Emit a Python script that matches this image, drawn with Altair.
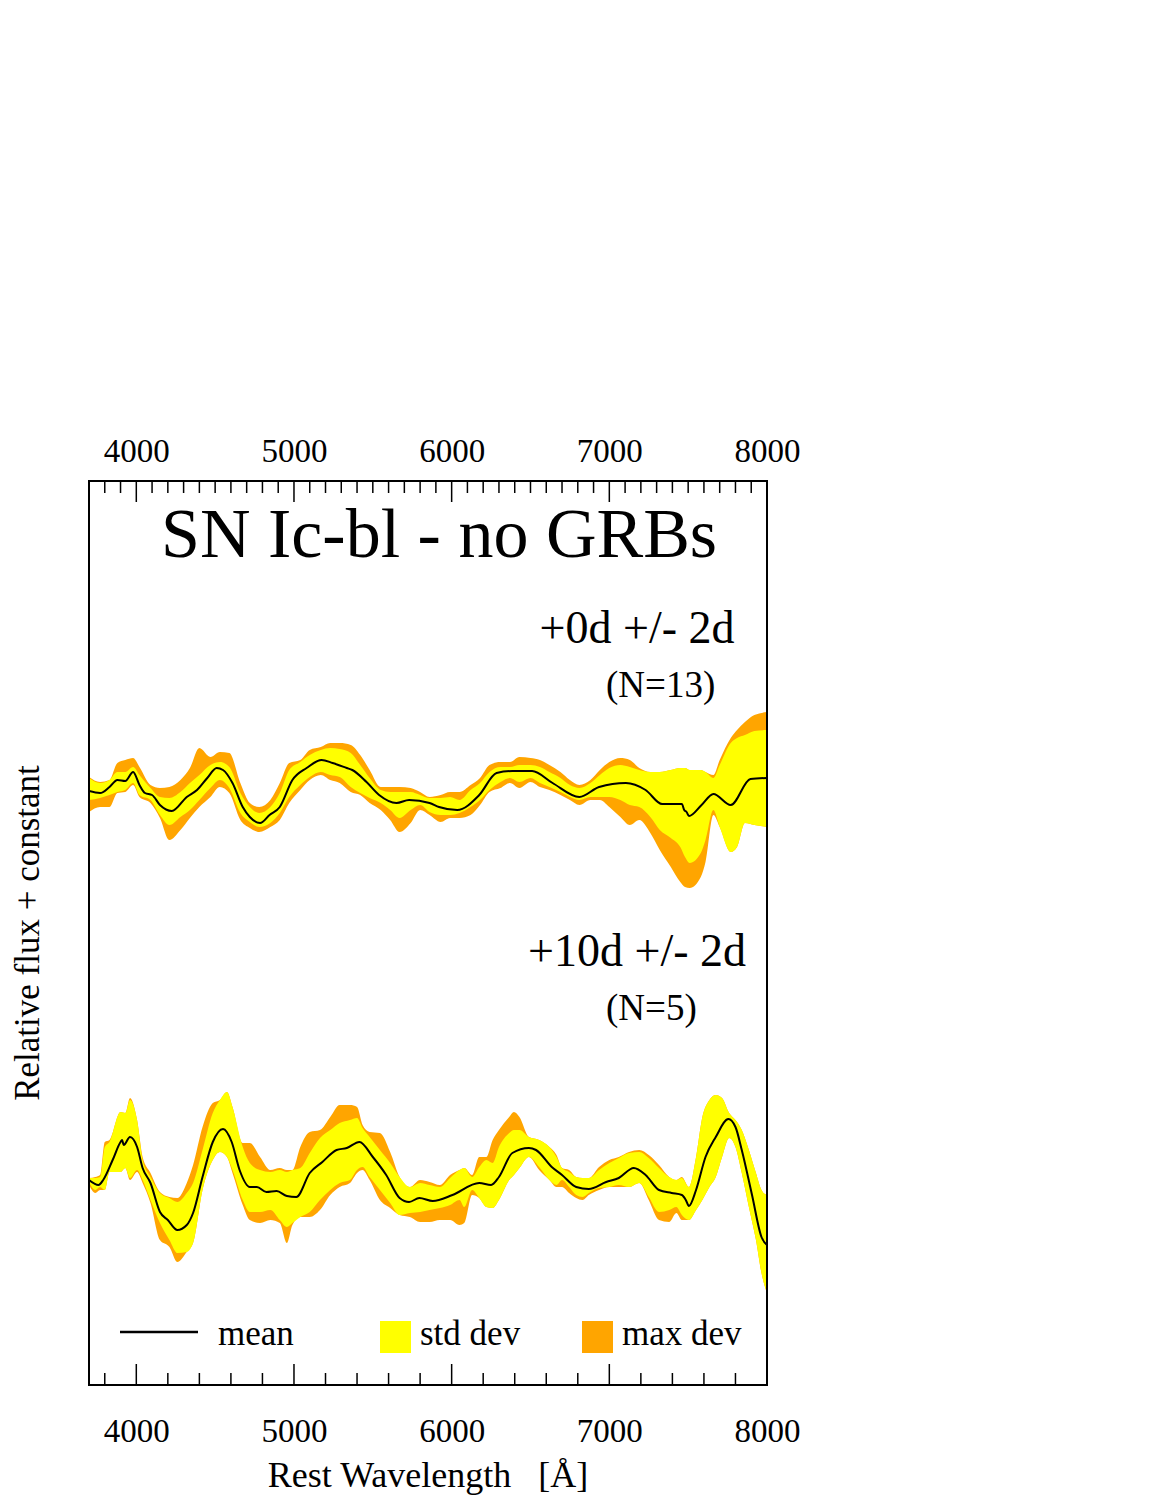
import altair as alt
import pandas as pd

FONT = "Liberation Serif"

# ---------------- epoch +0d (upper spectrum) ----------------
top_mean_wl = [3700, 3770, 3830, 3880, 3930, 3980, 4020, 4055,
               4100, 4150, 4225, 4320, 4385, 4450, 4510, 4550,
               4610, 4675, 4720, 4785, 4845, 4910, 4990, 5080,
               5175, 5245, 5335, 5370, 5460, 5540, 5650, 5730,
               5860, 5920, 6035, 6175, 6285, 6385, 6510, 6640,
               6810, 6935, 7105, 7230, 7335, 7460, 7475, 7490,
               7505, 7585, 7660, 7770, 7895, 8000]
top_mean_flux = [5.94, 5.92, 5.98, 6.05, 6.04, 6.13, 6.00, 5.92,
                 5.90, 5.80, 5.74, 5.88, 5.95, 6.07, 6.17, 6.15,
                 6.02, 5.78, 5.68, 5.62, 5.70, 5.78, 6.05, 6.17,
                 6.25, 6.22, 6.17, 6.15, 6.03, 5.90, 5.82, 5.85,
                 5.82, 5.78, 5.75, 5.90, 6.12, 6.14, 6.14, 6.02,
                 5.88, 5.98, 6.02, 5.95, 5.81, 5.81, 5.75, 5.73,
                 5.69, 5.80, 5.91, 5.80, 6.06, 6.07]

top_band_wl = [3700, 3770, 3830, 3880, 3930, 3980, 4020, 4090,
               4150, 4210, 4280, 4340, 4400, 4470, 4530, 4590,
               4660, 4720, 4780, 4850, 4910, 4970, 5040, 5100,
               5170, 5230, 5290, 5360, 5420, 5480, 5550, 5610,
               5670, 5740, 5800, 5860, 5930, 5990, 6050, 6120,
               6180, 6240, 6310, 6370, 6430, 6500, 6560, 6620,
               6690, 6750, 6810, 6880, 6940, 7000, 7070, 7130,
               7190, 7260, 7320, 7390, 7450, 7480, 7510, 7580,
               7610, 7660, 7700, 7770, 7810, 7860, 7920, 8000]
top_std_hi = [6.07, 6.02, 6.05, 6.13, 6.13, 6.18, 6.10, 5.97,
              5.88, 5.87, 5.93, 6.02, 6.10, 6.20, 6.23, 6.18,
              5.92, 5.78, 5.72, 5.78, 5.92, 6.15, 6.23, 6.30,
              6.35, 6.37, 6.36, 6.32, 6.20, 6.07, 5.95, 5.93,
              5.93, 5.93, 5.90, 5.87, 5.87, 5.88, 5.85, 5.95,
              6.02, 6.13, 6.18, 6.18, 6.20, 6.20, 6.18, 6.13,
              6.07, 6.00, 5.97, 6.02, 6.10, 6.17, 6.20, 6.18,
              6.15, 6.13, 6.13, 6.15, 6.17, 6.17, 6.15, 6.15,
              6.13, 6.07, 6.20, 6.42, 6.47, 6.50, 6.54, 6.55]
top_std_lo = [5.85, 5.87, 5.90, 5.93, 5.95, 6.02, 5.90, 5.85,
              5.70, 5.60, 5.68, 5.75, 5.85, 5.97, 6.05, 5.97,
              5.72, 5.63, 5.58, 5.62, 5.72, 5.88, 6.00, 6.08,
              6.13, 6.10, 6.08, 5.98, 5.92, 5.87, 5.82, 5.75,
              5.67, 5.75, 5.80, 5.73, 5.70, 5.70, 5.72, 5.78,
              5.85, 5.95, 6.03, 6.07, 6.03, 6.07, 6.02, 5.98,
              5.93, 5.88, 5.85, 5.88, 5.88, 5.88, 5.85, 5.80,
              5.78, 5.68, 5.55, 5.47, 5.38, 5.28, 5.22, 5.32,
              5.45, 5.75, 5.58, 5.33, 5.38, 5.62, 5.60, 5.58]
top_max_hi = [6.08, 6.03, 6.05, 6.22, 6.25, 6.27, 6.18, 6.00,
              5.97, 5.98, 6.05, 6.17, 6.37, 6.28, 6.33, 6.32,
              6.02, 5.82, 5.78, 5.85, 6.02, 6.22, 6.25, 6.35,
              6.38, 6.42, 6.42, 6.40, 6.30, 6.15, 5.98, 5.98,
              5.98, 5.97, 5.93, 5.88, 5.90, 5.93, 5.93, 6.00,
              6.07, 6.20, 6.23, 6.23, 6.28, 6.27, 6.25, 6.20,
              6.13, 6.05, 6.00, 6.05, 6.15, 6.23, 6.27, 6.25,
              6.17, 6.13, 6.13, 6.15, 6.17, 6.17, 6.15, 6.15,
              6.13, 6.10, 6.25, 6.47, 6.55, 6.63, 6.70, 6.73]
top_max_lo = [5.73, 5.78, 5.78, 5.92, 5.93, 6.00, 5.88, 5.82,
              5.67, 5.45, 5.55, 5.67, 5.78, 5.88, 5.98, 5.92,
              5.65, 5.57, 5.53, 5.58, 5.65, 5.82, 5.95, 6.05,
              6.10, 6.05, 6.02, 5.93, 5.90, 5.82, 5.75, 5.65,
              5.53, 5.62, 5.75, 5.70, 5.63, 5.67, 5.67, 5.70,
              5.80, 5.93, 5.97, 6.02, 5.97, 6.03, 5.98, 5.95,
              5.90, 5.85, 5.80, 5.85, 5.85, 5.78, 5.68, 5.60,
              5.65, 5.52, 5.35, 5.18, 5.03, 4.98, 4.97, 5.08,
              5.23, 5.70, 5.58, 5.33, 5.38, 5.62, 5.60, 5.58]

# ---------------- epoch +10d (lower spectrum) ----------------
bot_mean_wl = [3700, 3760, 3790, 3850, 3900, 3910, 3920, 3960,
               4005, 4040, 4090, 4150, 4200, 4260, 4320, 4360,
               4420, 4485, 4550, 4605, 4655, 4720, 4765, 4825,
               4890, 4955, 5015, 5100, 5180, 5270, 5335, 5415,
               5500, 5585, 5670, 5730, 5795, 5880, 6005, 6175,
               6250, 6300, 6385, 6490, 6535, 6635, 6700, 6790,
               6870, 6980, 7060, 7155, 7230, 7315, 7395, 7460,
               7485, 7505, 7550, 7610, 7675, 7755, 7800, 7840,
               7905, 7965, 8000]
bot_mean_flux = [2.05, 2.00, 2.05, 2.25, 2.43, 2.45, 2.40, 2.48,
                 2.38, 2.17, 2.02, 1.73, 1.65, 1.55, 1.60, 1.72,
                 2.08, 2.43, 2.56, 2.43, 2.15, 1.98, 1.98, 1.93,
                 1.94, 1.89, 1.88, 2.12, 2.23, 2.35, 2.37, 2.43,
                 2.28, 2.10, 1.87, 1.83, 1.87, 1.84, 1.90, 2.02,
                 2.00, 2.08, 2.32, 2.37, 2.35, 2.18, 2.10, 1.98,
                 1.96, 2.03, 2.07, 2.17, 2.10, 1.95, 1.92, 1.90,
                 1.85, 1.79, 1.95, 2.28, 2.48, 2.66, 2.58, 2.35,
                 1.90, 1.48, 1.40]

bot_band_wl = [3700, 3740, 3770, 3800, 3830, 3900, 3930, 3960, 4005, 4040,
               4090, 4150, 4210, 4260, 4320, 4360, 4420, 4485, 4530, 4575,
               4610, 4675, 4720, 4785, 4850, 4910, 4955, 4990, 5040, 5100,
               5165, 5230, 5290, 5355, 5400, 5435, 5480, 5545, 5610, 5670,
               5735, 5800, 5860, 5925, 5990, 6050, 6080, 6130, 6175, 6220,
               6260, 6300, 6365, 6395, 6430, 6490, 6555, 6620, 6665, 6700,
               6745, 6790, 6830, 6870, 6935, 7000, 7060, 7125, 7190, 7250,
               7315, 7380, 7425, 7460, 7505, 7550, 7590, 7635, 7675, 7715,
               7760, 7800, 7840, 7885, 7930, 7965, 8000]
bot_std_hi = [2.07, 2.07, 2.08, 2.38, 2.43, 2.73, 2.72, 2.85, 2.65, 2.25,
              2.08, 1.92, 1.87, 1.83, 1.92, 2.02, 2.35, 2.72, 2.85, 2.93,
              2.78, 2.38, 2.22, 2.15, 2.13, 2.15, 2.13, 2.15, 2.17, 2.32,
              2.47, 2.55, 2.62, 2.65, 2.67, 2.57, 2.48, 2.35, 2.22, 2.08,
              1.98, 2.02, 2.00, 1.98, 2.07, 2.15, 2.17, 2.08, 2.18, 2.25,
              2.22, 2.38, 2.52, 2.55, 2.55, 2.48, 2.45, 2.38, 2.28, 2.17,
              2.13, 2.08, 2.07, 2.07, 2.15, 2.22, 2.27, 2.32, 2.33, 2.27,
              2.17, 2.08, 2.05, 2.07, 1.98, 2.28, 2.68, 2.85, 2.90, 2.87,
              2.72, 2.65, 2.55, 2.35, 2.12, 1.95, 1.90]
bot_std_lo = [2.03, 1.95, 1.98, 1.95, 2.13, 2.13, 2.17, 2.07, 2.15, 2.05,
              1.85, 1.62, 1.45, 1.32, 1.33, 1.42, 1.95, 2.25, 2.33, 2.28,
              2.15, 1.85, 1.73, 1.73, 1.75, 1.65, 1.58, 1.62, 1.68, 1.73,
              1.85, 1.95, 2.02, 2.05, 2.15, 2.18, 2.08, 1.95, 1.82, 1.70,
              1.72, 1.73, 1.75, 1.77, 1.80, 1.85, 1.78, 1.95, 1.87, 1.78,
              1.77, 1.85, 2.05, 2.10, 2.17, 2.28, 2.18, 2.05, 2.00, 2.05,
              1.98, 1.90, 1.88, 1.92, 1.97, 1.98, 2.00, 1.98, 2.02, 1.88,
              1.73, 1.75, 1.78, 1.70, 1.65, 1.75, 1.85, 1.98, 2.08, 2.28,
              2.47, 2.38, 2.12, 1.78, 1.45, 1.12, 0.92]
bot_max_hi = [2.07, 2.08, 2.10, 2.43, 2.45, 2.73, 2.72, 2.87, 2.65, 2.28,
              2.12, 1.93, 1.88, 1.87, 2.02, 2.20, 2.58, 2.82, 2.85, 2.93,
              2.78, 2.42, 2.42, 2.28, 2.15, 2.17, 2.15, 2.15, 2.38, 2.53,
              2.55, 2.68, 2.80, 2.80, 2.78, 2.60, 2.53, 2.52, 2.33, 2.08,
              1.98, 2.05, 2.03, 2.00, 2.10, 2.15, 2.17, 2.10, 2.28, 2.28,
              2.45, 2.55, 2.68, 2.73, 2.68, 2.48, 2.45, 2.38, 2.30, 2.17,
              2.15, 2.08, 2.07, 2.07, 2.18, 2.25, 2.28, 2.33, 2.35, 2.30,
              2.20, 2.08, 2.05, 2.08, 1.98, 2.28, 2.68, 2.85, 2.90, 2.87,
              2.72, 2.65, 2.55, 2.35, 2.12, 1.95, 1.90]
bot_max_lo = [2.00, 1.92, 1.95, 1.95, 2.13, 2.13, 2.17, 2.05, 2.13, 2.02,
              1.82, 1.45, 1.38, 1.23, 1.33, 1.42, 1.95, 2.25, 2.33, 2.28,
              2.12, 1.80, 1.65, 1.62, 1.65, 1.62, 1.42, 1.60, 1.68, 1.68,
              1.75, 1.90, 1.98, 2.02, 2.12, 2.15, 2.05, 1.85, 1.77, 1.70,
              1.68, 1.63, 1.63, 1.65, 1.65, 1.60, 1.62, 1.90, 1.87, 1.78,
              1.77, 1.85, 2.05, 2.10, 2.17, 2.28, 2.15, 2.05, 1.98, 1.98,
              1.92, 1.87, 1.85, 1.90, 1.95, 1.98, 1.98, 1.98, 2.02, 1.85,
              1.65, 1.63, 1.72, 1.65, 1.65, 1.75, 1.85, 1.98, 2.08, 2.28,
              2.47, 2.38, 2.12, 1.78, 1.45, 1.12, 0.92]

# ---------------- axis ticks ----------------
major_ticks = [4000, 5000, 6000, 7000, 8000]
top_minor_ticks = [w for w in range(3800, 8000, 100) if w % 1000 != 0]
bottom_minor_ticks = [w for w in range(3800, 8000, 200) if w % 1000 != 0]

# ---------------- tables ----------------
bands = pd.concat([
    pd.DataFrame({"wl": top_band_wl, "std_lo": top_std_lo, "std_hi": top_std_hi,
                  "max_lo": top_max_lo, "max_hi": top_max_hi, "epoch": "+0d"}),
    pd.DataFrame({"wl": bot_band_wl, "std_lo": bot_std_lo, "std_hi": bot_std_hi,
                  "max_lo": bot_max_lo, "max_hi": bot_max_hi, "epoch": "+10d"}),
], ignore_index=True)
means = pd.concat([
    pd.DataFrame({"wl": top_mean_wl, "flux": top_mean_flux, "epoch": "+0d"}),
    pd.DataFrame({"wl": bot_mean_wl, "flux": bot_mean_flux, "epoch": "+10d"}),
], ignore_index=True)
one_row = pd.DataFrame({"k": [0]})

W, H = 678, 904
x_scale = alt.Scale(domain=[3700, 8000], nice=False, zero=False)
y_scale = alt.Scale(domain=[0, 9.04], nice=False, zero=False)

axis_common = dict(values=major_ticks, format="d", domain=False, ticks=False,
                   tickSize=0, grid=False, labelFont=FONT, labelFontSize=33,
                   labelColor="black", labelBaseline="alphabetic",
                   labelFlush=False, labelOverlap=False)
bottom_axis = alt.Axis(orient="bottom", labelPadding=56, **axis_common)
top_axis = alt.Axis(orient="top", labelPadding=20, **axis_common)

max_area = alt.Chart(bands).mark_area(color="#FFA500", interpolate="monotone", clip=True).encode(
    x=alt.X("wl:Q", scale=x_scale, axis=bottom_axis, title=None),
    y=alt.Y("max_lo:Q", scale=y_scale, axis=None),
    y2="max_hi:Q",
    detail="epoch:N",
)
std_area = alt.Chart(bands).mark_area(color="#FFFF00", interpolate="monotone", clip=True).encode(
    x=alt.X("wl:Q", scale=x_scale, axis=None),
    y=alt.Y("std_lo:Q", scale=y_scale, axis=None),
    y2="std_hi:Q",
    detail="epoch:N",
)
mean_line = alt.Chart(means).mark_line(color="black", strokeWidth=2, interpolate="monotone", clip=True).encode(
    x=alt.X("wl:Q", scale=x_scale, axis=None),
    y=alt.Y("flux:Q", scale=y_scale, axis=None),
    detail="epoch:N",
)

def ticks(values, y0, y1, axis=None):
    return alt.Chart(pd.DataFrame({"wl": values})).mark_rule(color="black", strokeWidth=1.5).encode(
        x=alt.X("wl:Q", scale=x_scale, axis=axis, title=None),
        y=alt.value(y0), y2=alt.value(y1),
    )

tick_layers = [
    ticks(top_minor_ticks, 0, 12, axis=top_axis),
    ticks(major_ticks, 0, 21),
    ticks(bottom_minor_ticks, H, H - 12),
    ticks(major_ticks, H, H - 21),
]

frame = alt.Chart(one_row).mark_rect(filled=False, stroke="black", strokeWidth=2).encode(
    x=alt.value(0), x2=alt.value(W), y=alt.value(0), y2=alt.value(H))

def note(text, x, y, size, align="center", angle=0):
    return alt.Chart(one_row).mark_text(
        text=text, font=FONT, fontSize=size, align=align, baseline="alphabetic",
        color="black", angle=angle).encode(x=alt.value(x), y=alt.value(y))

NB = "\u00a0"
texts = [
    note("SN Ic-bl - no GRBs", 350, 76, 70),
    note("+0d +/- 2d", 548, 162, 46),
    note("(N=13)", 517, 216, 37, align="left"),
    note("+10d +/- 2d", 548, 485, 46),
    note("(N=5)", 517, 539, 37, align="left"),
    note("Rest Wavelength" + NB * 3 + "[Å]", 339, 1006, 36),
    note("Relative flux + constant", -50, 452, 35, angle=270),
    note("mean", 129, 864, 35, align="left"),
    note("std dev", 331, 864, 35, align="left"),
    note("max dev", 533, 864, 35, align="left"),
]

legend_line = alt.Chart(one_row).mark_rule(color="black", strokeWidth=2.5).encode(
    x=alt.value(31), x2=alt.value(109), y=alt.value(851))
legend_std = alt.Chart(one_row).mark_rect(color="#FFFF00").encode(
    x=alt.value(291), x2=alt.value(322), y=alt.value(840), y2=alt.value(872))
legend_max = alt.Chart(one_row).mark_rect(color="#FFA500").encode(
    x=alt.value(493), x2=alt.value(524), y=alt.value(840), y2=alt.value(872))

chart = alt.layer(
    max_area, std_area, mean_line, *tick_layers, frame,
    legend_line, legend_std, legend_max, *texts,
).properties(
    width=W, height=H,
    autosize=alt.AutoSizeParams(type="none"),
    padding={"left": 81, "top": 473, "right": 100, "bottom": 111},
    background="white",
).configure_view(stroke=None)

chart.save("out.html", embed_options={"renderer": "svg", "actions": False})
